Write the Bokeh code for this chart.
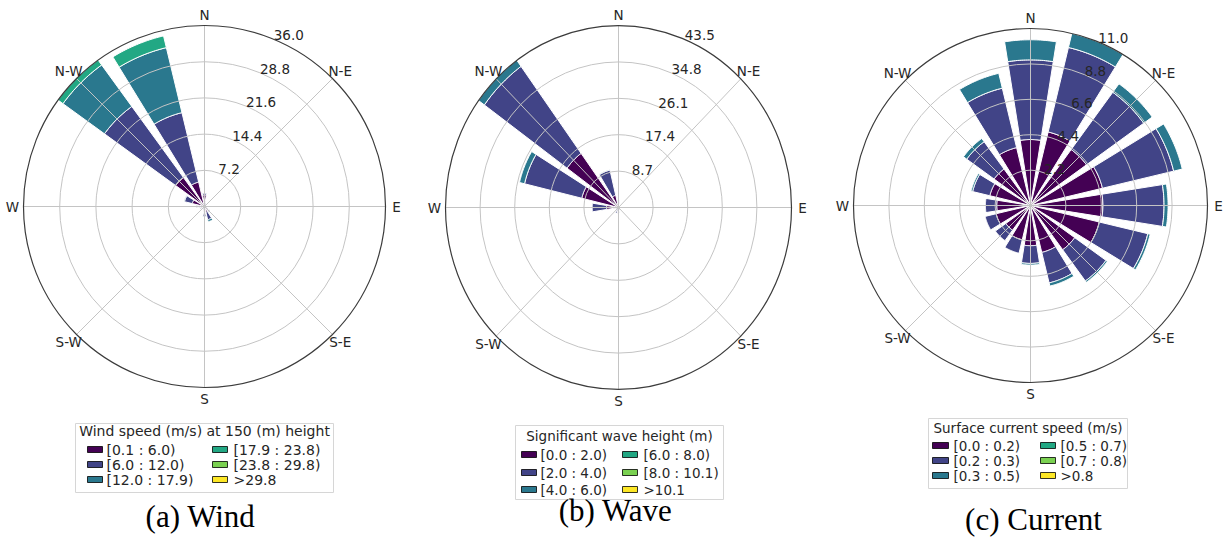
import numpy as np
from bokeh.plotting import figure
from bokeh.layouts import row
from bokeh.models import Range1d
from bokeh.core.properties import value
from bokeh.embed import file_html
from bokeh.resources import INLINE

# ---------------- data ----------------
directions = ["N", "NNE", "NE", "ENE", "E", "ESE", "SE", "SSE",
              "S", "SSW", "SW", "WSW", "W", "WNW", "NW", "NNW"]
compass_labels = ["N", "N-E", "E", "S-E", "S", "S-W", "W", "N-W"]

# (a) Wind: frequency (%) per direction for each speed bin
wind_bins = ["[0.1 : 6.0)", "[6.0 : 12.0)", "[12.0 : 17.9)",
             "[17.9 : 23.8)", "[23.8 : 29.8)", ">29.8"]
wind_b1 = [2.3, 0.5, 0.2, 0.2, 0.2, 0.3, 0.8, 1.2, 0.9, 0.4, 0.3, 0.6, 1.0, 2.5, 7.1, 5.0]
wind_b2 = [0.3, 0.1, 0.0, 0.0, 0.0, 0.1, 0.5, 1.5, 1.1, 0.2, 0.1, 0.3, 0.6, 1.6, 17.5, 14.2]
wind_b3 = [0.0, 0.0, 0.0, 0.0, 0.0, 0.0, 0.0, 0.4, 0.1, 0.0, 0.0, 0.0, 0.0, 0.1, 10.2, 13.3]
wind_b4 = [0.0, 0.0, 0.0, 0.0, 0.0, 0.0, 0.0, 0.0, 0.0, 0.0, 0.0, 0.0, 0.0, 0.0, 1.2, 2.4]
wind_b5 = [0.0] * 16
wind_b6 = [0.0] * 16
wind_rticks = [7.2, 14.4, 21.6, 28.8, 36.0]
wind_title = "Wind speed (m/s) at 150 (m) height"
wind_caption = "(a) Wind"

# (b) Wave
wave_bins = ["[0.0 : 2.0)", "[2.0 : 4.0)", "[4.0 : 6.0)",
             "[6.0 : 8.0)", "[8.0 : 10.1)", ">10.1"]
wave_b1 = [1.0, 0.3, 0.2, 0.1, 0.1, 0.1, 0.2, 0.4, 0.7, 0.6, 0.3, 0.5, 3.0, 9.5, 16.0, 3.0]
wave_b2 = [0.8, 0.1, 0.0, 0.0, 0.0, 0.0, 0.0, 0.1, 0.5, 0.8, 0.1, 0.2, 3.6, 14.8, 25.7, 6.2]
wave_b3 = [0.0, 0.0, 0.0, 0.0, 0.0, 0.0, 0.0, 0.0, 0.0, 0.0, 0.0, 0.0, 0.0, 1.3, 1.8, 0.1]
wave_b4 = [0.0] * 16
wave_b5 = [0.0] * 16
wave_b6 = [0.0] * 16
wave_rticks = [8.7, 17.4, 26.1, 34.8, 43.5]
wave_title = "Significant wave height (m)"
wave_caption = "(b) Wave"

# (c) Current
curr_bins = ["[0.0 : 0.2)", "[0.2 : 0.3)", "[0.3 : 0.5)",
             "[0.5 : 0.7)", "[0.7 : 0.8)", ">0.8"]
curr_b1 = [4.1, 4.7, 4.3, 4.6, 4.5, 4.4, 3.4, 3.0, 2.5, 2.2, 1.9, 2.2, 2.1, 2.6, 2.8, 3.7]
curr_b2 = [4.95, 5.4, 4.4, 4.55, 3.8, 3.1, 2.4, 1.95, 1.1, 0.85, 0.8, 0.7, 0.7, 1.1, 2.1, 3.8]
curr_b3 = [1.25, 0.9, 0.65, 0.55, 0.25, 0.15, 0.1, 0.2, 0.1, 0.0, 0.0, 0.0, 0.0, 0.1, 0.25, 0.95]
curr_b4 = [0.0] * 16
curr_b5 = [0.0] * 16
curr_b6 = [0.0] * 16
curr_rticks = [2.2, 4.4, 6.6, 8.8, 11.0]
curr_title = "Surface current speed (m/s)"
curr_caption = "(c) Current"

# ---------------- style ----------------
VIRIDIS6 = ["#440154", "#414487", "#2a788e", "#22a884", "#7ad151", "#fde725"]
SANS = "DejaVu Sans"
SERIF = "Liberation Serif"
H = 542
PAGE_TOP = 0


def sector_poly(theta_c, half_w, r0, r1, n=24):
    th = np.radians(np.linspace(theta_c - half_w, theta_c + half_w, n))
    xo = list(r1 * np.sin(th))
    yo = list(r1 * np.cos(th))
    if r0 > 0:
        xi = list(r0 * np.sin(th[::-1]))
        yi = list(r0 * np.cos(th[::-1]))
    else:
        xi, yi = [0.0], [0.0]
    return xo + xi, yo + yi


def make_panel(freqs, bins, rticks, title, caption, cfg):
    W = cfg["W"]
    left = cfg["left"]
    shift = cfg["shift"]
    cxr, cyr = cfg["center"]
    rmax = rticks[-1]
    sx = cfg["Rx"] / rmax
    sy = cfg["Ry"] / rmax
    cx_page = cxr + shift
    x_range = Range1d((left - cx_page) / sx, (left + W - cx_page) / sx)
    y_range = Range1d((cyr - PAGE_TOP - H) / sy, (cyr - PAGE_TOP) / sy)

    def dx(xr):
        return (xr - cxr) / sx

    def dy(yr):
        return (cyr - yr) / sy

    p = figure(width=W, height=H, x_range=x_range, y_range=y_range,
               output_backend="svg", toolbar_location=None, min_border=0)
    p.axis.visible = False
    p.grid.visible = False
    p.outline_line_color = None
    p.background_fill_color = "white"

    n = len(directions)
    step = 360.0 / n
    half_w = step * 0.8 / 2.0
    base = np.zeros(n)
    for k, vals in enumerate(freqs):
        vals = np.asarray(vals, dtype=float)
        xs, ys = [], []
        for i in range(n):
            if vals[i] > 0:
                px, py = sector_poly(i * step, half_w, base[i], base[i] + vals[i])
                xs.append(px)
                ys.append(py)
        if xs:
            p.patches(xs, ys, fill_color=VIRIDIS6[k], line_color="white", line_width=1)
        base = base + vals

    # grid (drawn over bars, as in the reference)
    inner = rticks[:-1]
    p.ellipse(x=[0] * len(inner), y=[0] * len(inner),
              width=[2 * r for r in inner], height=[2 * r for r in inner],
              fill_color=None, line_color="#c4c4c4", line_width=1)
    ang = np.radians(np.arange(0, 360, 45))
    p.segment(x0=[0] * 8, y0=[0] * 8, x1=list(rmax * np.sin(ang)), y1=list(rmax * np.cos(ang)),
              line_color="#c4c4c4", line_width=1)
    p.ellipse(x=[0], y=[0], width=[2 * rmax], height=[2 * rmax],
              fill_color=None, line_color="#3c3c3c", line_width=1.2)

    # compass labels
    pad = cfg["lab_pad"]
    p.text(x=list(rmax * np.sin(ang)), y=list(rmax * np.cos(ang)), text=compass_labels,
           x_offset=list(pad * np.sin(ang)), y_offset=list(-pad * np.cos(ang)),
           text_align="center", text_baseline="middle",
           text_font=value(SANS), text_font_size=cfg["fs_lab"], text_color="#262626")

    # radial tick labels
    ra = np.radians(22.5)
    p.text(x=[r * np.sin(ra) for r in rticks], y=[r * np.cos(ra) for r in rticks],
           text=["%.1f" % r for r in rticks], text_align="left", text_baseline="bottom",
           y_offset=1, text_font=value(SANS), text_font_size=cfg["fs_lab"], text_color="#262626")

    # legend
    lg = cfg["legend"]
    bl, br, bt, bb = lg["box"]
    p.quad(left=[dx(bl)], right=[dx(br)], top=[dy(bt)], bottom=[dy(bb)],
           fill_color="white", line_color="#d6d6d6", line_width=1)
    p.text(x=[dx((bl + br) / 2.0)], y=[dy(lg["title_y"])], text=[title],
           text_align="center", text_baseline="middle",
           text_font=value(SANS), text_font_size=lg["fs"], text_color="#262626")
    ph = lg["patch_h"]
    for j, lab in enumerate(bins):
        col, rw = divmod(j, 3)
        yc = lg["rows"][rw]
        x0, x1 = lg["patch_x"][col]
        p.quad(left=[dx(x0)], right=[dx(x1)], top=[dy(yc - ph / 2.0)], bottom=[dy(yc + ph / 2.0)],
               fill_color=VIRIDIS6[j], line_color="black", line_width=0.8)
        p.text(x=[dx(lg["text_x"][col])], y=[dy(yc)], text=[lab],
               text_align="left", text_baseline="middle",
               text_font=value(SANS), text_font_size=lg["fs"], text_color="#262626")

    # caption
    capx, capy = cfg["caption"]
    p.text(x=[dx(capx)], y=[dy(capy)], text=[caption], text_align="center",
           text_baseline="middle", text_font=value(SERIF),
           text_font_size="31px", text_color="black")
    return p


cfg_a = dict(W=416, left=0, shift=0, center=(204, 206), Rx=181, Ry=181,
             lab_pad=11, fs_lab="13.5px", caption=(200, 516),
             legend=dict(box=(75, 333, 423, 492), title_y=430, rows=[449, 464, 479],
                         patch_x=[(87, 102), (212, 227)], text_x=[106, 233],
                         patch_h=6, fs="14px"))
cfg_b = dict(W=406, left=416, shift=0, center=(618, 207), Rx=173, Ry=182,
             lab_pad=11, fs_lab="13.5px", caption=(615, 510),
             legend=dict(box=(515, 723, 425, 499), title_y=435, rows=[454, 472, 489],
                         patch_x=[(521, 536), (622, 637)], text_x=[540, 643],
                         patch_h=6, fs="13.5px"))
cfg_c = dict(W=403, left=822, shift=0, center=(1030, 205), Rx=177, Ry=177,
             lab_pad=11, fs_lab="13.5px", caption=(1033, 519),
             legend=dict(box=(928, 1127, 418, 488), title_y=427, rows=[445, 460, 475],
                         patch_x=[(932, 948), (1040, 1055)], text_x=[953, 1060],
                         patch_h=6, fs="13.5px"))

pa = make_panel([wind_b1, wind_b2, wind_b3, wind_b4, wind_b5, wind_b6],
                wind_bins, wind_rticks, wind_title, wind_caption, cfg_a)
pb = make_panel([wave_b1, wave_b2, wave_b3, wave_b4, wave_b5, wave_b6],
                wave_bins, wave_rticks, wave_title, wave_caption, cfg_b)
pc = make_panel([curr_b1, curr_b2, curr_b3, curr_b4, curr_b5, curr_b6],
                curr_bins, curr_rticks, curr_title, curr_caption, cfg_c)

layout = row(pa, pb, pc, spacing=0)
open("out.html", "w").write(file_html(layout, INLINE))
